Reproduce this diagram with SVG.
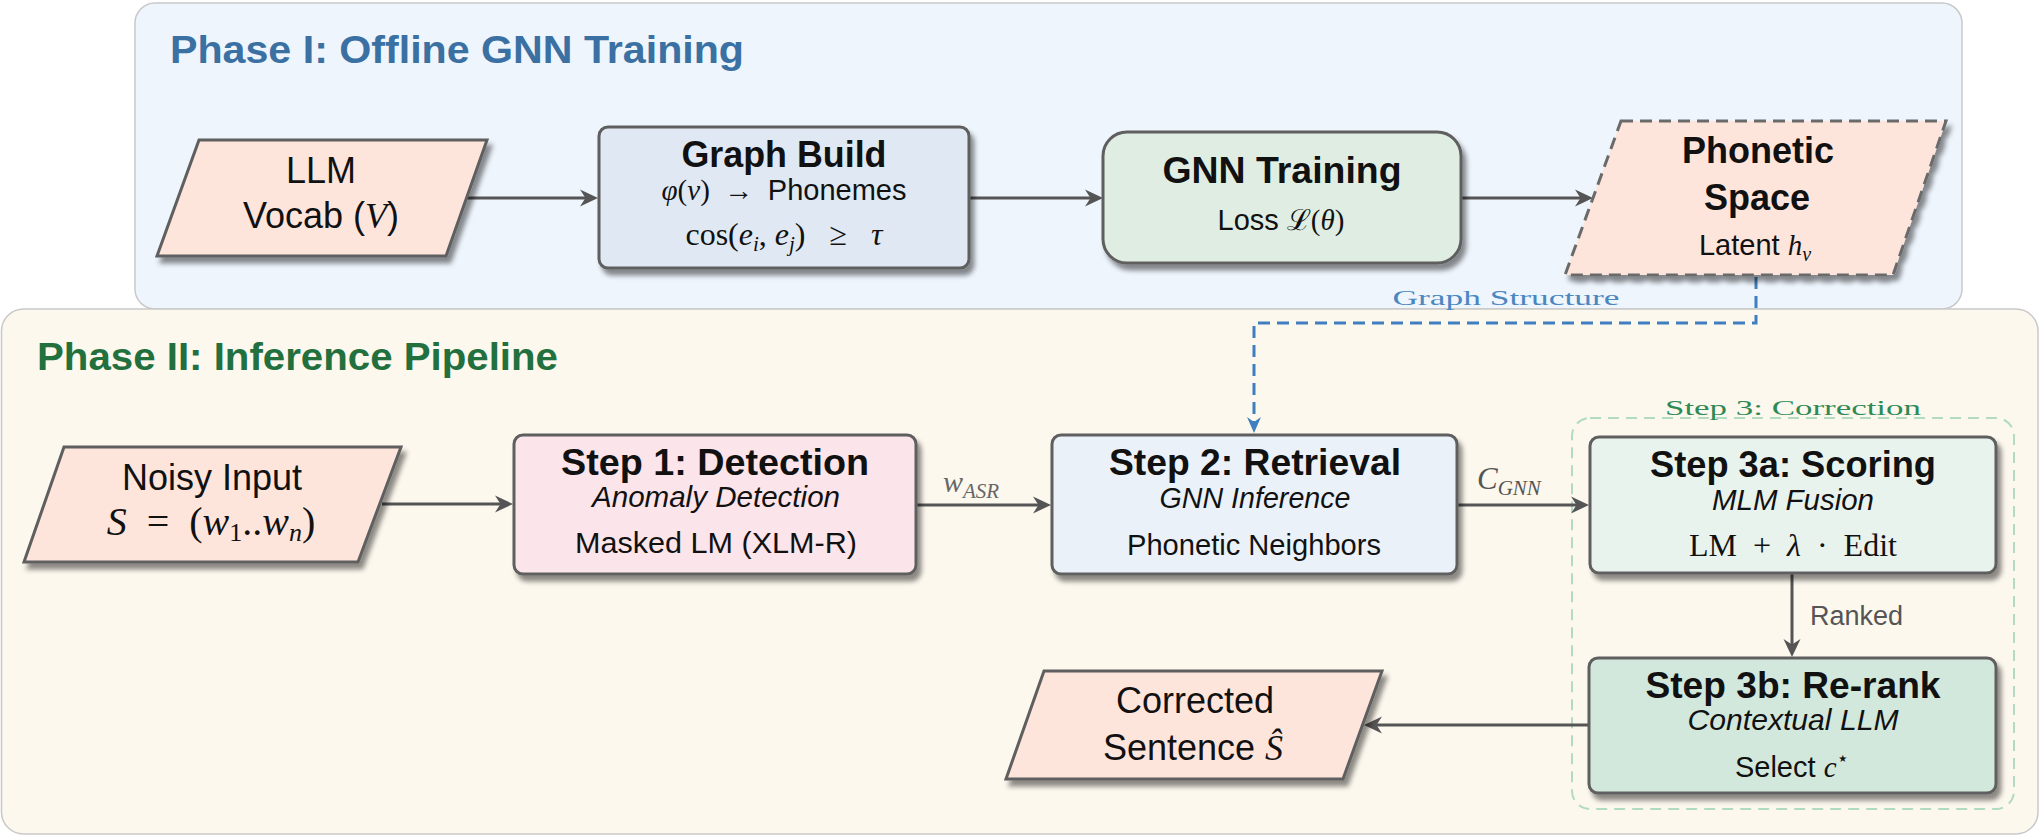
<svg xmlns="http://www.w3.org/2000/svg" width="2040" height="836" viewBox="0 0 2040 836">
<style>
.sans{font-family:"Liberation Sans",Arial,sans-serif;fill:#111}
.serif{font-family:"Liberation Serif","Times New Roman",serif}
.it{font-style:italic}
.b{font-weight:bold}
.node{stroke:#5f5f5f;stroke-width:3}
.conn{stroke:#555;stroke-width:3;fill:none}
.ttl{font-family:"Liberation Sans",Arial,sans-serif;font-weight:bold;font-size:39px}
.h{font-size:36px;font-weight:bold}
.sub{font-size:29px}
.big{font-size:36px}
</style>
<defs>
<filter id="sh" x="-10%" y="-10%" width="125%" height="130%">
<feDropShadow dx="4" dy="6" stdDeviation="2.5" flood-color="#000" flood-opacity="0.45"/>
</filter>
<marker id="arr" viewBox="-20 -10 22 20" markerWidth="22" markerHeight="20" refX="-8" refY="0" orient="auto" markerUnits="userSpaceOnUse">
<path d="M0,0 L-18,-8.5 L-12.5,0 L-18,8.5 Z" fill="#555"/>
</marker>
<marker id="arrb" viewBox="-20 -10 22 20" markerWidth="22" markerHeight="20" refX="-8" refY="0" orient="auto" markerUnits="userSpaceOnUse">
<path d="M0,0 L-16,-7 L-11,0 L-16,7 Z" fill="#3f7fbf"/>
</marker>
</defs>

<g id="phase1">
<rect x="135" y="3" width="1827" height="306" rx="20" fill="#eef5fd" stroke="#c9c9c9" stroke-width="1.5"/>
<text class="ttl" x="170" y="63" fill="#3b70a3" textLength="574" lengthAdjust="spacingAndGlyphs">Phase I: Offline GNN Training</text>
</g>
<g id="phase2">
<rect x="1.5" y="309" width="2036.5" height="525" rx="22" fill="#fdf8ee" stroke="#c9c9c9" stroke-width="1.5"/>
<text class="ttl" x="37" y="370" fill="#23703f" textLength="521" lengthAdjust="spacingAndGlyphs">Phase II: Inference Pipeline</text>
</g>

<g id="step3-group">
<rect x="1572" y="418" width="442" height="391" rx="18" fill="none" stroke="#b3dbc4" stroke-width="2" stroke-dasharray="11 7"/>
<text class="serif" x="1793" y="415" text-anchor="middle" font-size="22" fill="#2e8a55" textLength="256" lengthAdjust="spacingAndGlyphs">Step 3: Correction</text>
</g>

<g id="connectors">
<line class="conn" x1="467" y1="198" x2="590" y2="198" marker-end="url(#arr)"/>
<line class="conn" x1="969" y1="198" x2="1095" y2="198" marker-end="url(#arr)"/>
<line class="conn" x1="1461" y1="198" x2="1585" y2="198" marker-end="url(#arr)"/>
<path d="M1756,277 V323 H1254 V425" fill="none" stroke="#3f7fbf" stroke-width="3" stroke-dasharray="12 7" marker-end="url(#arrb)"/>
<text class="serif" x="1506" y="305" text-anchor="middle" font-size="22" fill="#4a86c0" textLength="227" lengthAdjust="spacingAndGlyphs">Graph Structure</text>
<line class="conn" x1="382" y1="504" x2="505" y2="504" marker-end="url(#arr)"/>
<line class="conn" x1="916" y1="505" x2="1043" y2="505" marker-end="url(#arr)"/>
<text class="serif it" x="943" y="492" font-size="30" fill="#666">w<tspan font-size="21" dy="6">ASR</tspan></text>
<line class="conn" x1="1457" y1="505" x2="1581" y2="505" marker-end="url(#arr)"/>
<text class="serif it" x="1477" y="489" font-size="31" fill="#555">C<tspan font-size="21" dy="6">GNN</tspan></text>
<line class="conn" x1="1792" y1="573" x2="1792" y2="649" marker-end="url(#arr)"/>
<text class="sans" x="1810" y="625" font-size="27" style="fill:#555">Ranked</text>
<line class="conn" x1="1589" y1="725" x2="1372" y2="725" marker-end="url(#arr)"/>
</g>

<g id="llm-vocab">
<polygon class="node" points="199,140 487,140 446,256 157,256" fill="#fee5dc" filter="url(#sh)"/>
<text class="sans big" x="321" y="183" text-anchor="middle">LLM</text>
<text class="sans big" x="321" y="228" text-anchor="middle">Vocab (<tspan class="serif it">V</tspan>)</text>
</g>

<g id="graph-build">
<rect class="node" x="599" y="127" width="370" height="141" rx="9" fill="#e0e9f3" filter="url(#sh)"/>
<text class="sans h" x="784" y="167" text-anchor="middle" textLength="205" lengthAdjust="spacingAndGlyphs">Graph Build</text>
<text class="sans sub" x="784" y="200" text-anchor="middle"><tspan class="serif it">φ</tspan><tspan class="serif">(</tspan><tspan class="serif it">v</tspan><tspan class="serif">)&#160; →&#160; </tspan>Phonemes</text>
<text class="serif" x="784" y="245" text-anchor="middle" font-size="32" fill="#111">cos(<tspan class="it">e</tspan><tspan class="it" font-size="21" dy="6">i</tspan><tspan dy="-6">, </tspan><tspan class="it">e</tspan><tspan class="it" font-size="21" dy="6">j</tspan><tspan dy="-6">)&#160;&#160; ≥&#160;&#160; </tspan><tspan class="it">τ</tspan></text>
</g>

<g id="gnn-training">
<rect class="node" x="1103" y="132" width="358" height="131" rx="24" fill="#e0ede3" filter="url(#sh)"/>
<text class="sans h" x="1282" y="183" text-anchor="middle" textLength="239" lengthAdjust="spacingAndGlyphs">GNN Training</text>
<text class="sans sub" x="1281" y="230" text-anchor="middle">Loss <tspan font-family="DejaVu Serif, serif">ℒ</tspan><tspan class="serif">(</tspan><tspan class="serif it">θ</tspan><tspan class="serif">)</tspan></text>
</g>

<g id="phonetic-space">
<polygon points="1621,121 1946,121 1893,275 1565,275" fill="#fee5dc" stroke="#6a6a6a" stroke-width="3" stroke-dasharray="12 7" filter="url(#sh)"/>
<text class="sans h" x="1758" y="163" text-anchor="middle">Phonetic</text>
<text class="sans h" x="1757" y="210" text-anchor="middle">Space</text>
<text class="sans sub" x="1755" y="255" text-anchor="middle">Latent <tspan class="serif it">h</tspan><tspan class="serif it" font-size="20" dy="6">v</tspan></text>
</g>

<g id="noisy-input">
<polygon class="node" points="64,447 401,447 358,562 24,562" fill="#fee5dc" filter="url(#sh)"/>
<text class="sans big" x="212" y="490" text-anchor="middle">Noisy Input</text>
<text class="serif" x="211" y="535" text-anchor="middle" font-size="40" fill="#111"><tspan class="it">S</tspan>&#160; =&#160; (<tspan class="it">w</tspan><tspan font-size="26" dy="6">1</tspan><tspan dy="-6">..</tspan><tspan class="it">w</tspan><tspan class="it" font-size="26" dy="6">n</tspan><tspan dy="-6">)</tspan></text>
</g>

<g id="step1">
<rect class="node" x="514" y="435" width="402" height="139" rx="9" fill="#fbe4ea" filter="url(#sh)"/>
<text class="sans h" x="715" y="475" text-anchor="middle" textLength="308" lengthAdjust="spacingAndGlyphs">Step 1:  Detection</text>
<text class="sans sub it" x="716" y="507" text-anchor="middle" textLength="248" lengthAdjust="spacingAndGlyphs">Anomaly Detection</text>
<text class="sans sub" x="716" y="553" text-anchor="middle" textLength="282" lengthAdjust="spacingAndGlyphs">Masked LM (XLM-R)</text>
</g>

<g id="step2">
<rect class="node" x="1052" y="435" width="405" height="139" rx="9" fill="#ebf1f8" filter="url(#sh)"/>
<text class="sans h" x="1255" y="475" text-anchor="middle" textLength="292" lengthAdjust="spacingAndGlyphs">Step 2:  Retrieval</text>
<text class="sans sub it" x="1255" y="508" text-anchor="middle" textLength="191" lengthAdjust="spacingAndGlyphs">GNN Inference</text>
<text class="sans sub" x="1254" y="555" text-anchor="middle" textLength="254" lengthAdjust="spacingAndGlyphs">Phonetic Neighbors</text>
</g>

<g id="step3a">
<rect class="node" x="1590" y="437" width="406" height="136" rx="9" fill="#e9f3ee" filter="url(#sh)"/>
<text class="sans h" x="1793" y="477" text-anchor="middle" textLength="286" lengthAdjust="spacingAndGlyphs">Step 3a:  Scoring</text>
<text class="sans sub it" x="1793" y="510" text-anchor="middle" textLength="162" lengthAdjust="spacingAndGlyphs">MLM Fusion</text>
<text class="serif" x="1793" y="556" text-anchor="middle" font-size="32" fill="#111">LM&#160; +&#160; <tspan class="it">λ</tspan>&#160; ·&#160; Edit</text>
</g>

<g id="step3b">
<rect class="node" x="1589" y="658" width="407" height="135" rx="9" fill="#d3e8dc" filter="url(#sh)"/>
<text class="sans h" x="1793" y="698" text-anchor="middle" textLength="295" lengthAdjust="spacingAndGlyphs">Step 3b:  Re-rank</text>
<text class="sans sub it" x="1793" y="730" text-anchor="middle" textLength="211" lengthAdjust="spacingAndGlyphs">Contextual LLM</text>
<text class="sans sub" x="1792" y="777" text-anchor="middle">Select <tspan class="serif it">c</tspan><tspan font-family="DejaVu Sans, sans-serif" font-size="20" dy="-12">⋆</tspan></text>
</g>

<g id="corrected">
<polygon class="node" points="1044,671 1382,671 1343,779 1006,779" fill="#fee5dc" filter="url(#sh)"/>
<text class="sans big" x="1195" y="713" text-anchor="middle">Corrected</text>
<text class="sans big" x="1193" y="760" text-anchor="middle">Sentence <tspan class="serif it">Ŝ</tspan></text>
</g>
</svg>
